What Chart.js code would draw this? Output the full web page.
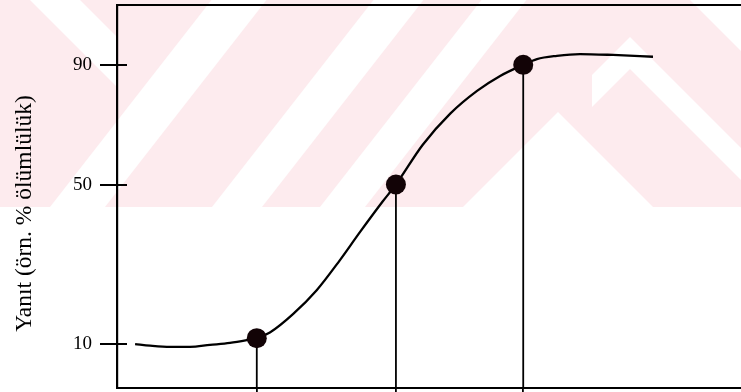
<!DOCTYPE html>
<html>
<head>
<meta charset="utf-8">
<script src="https://cdn.jsdelivr.net/npm/chart.js@4/dist/chart.umd.min.js"></script>
<style>
  html, body { margin: 0; padding: 0; background: #ffffff; }
  #wrap { width: 741px; height: 392px; }
</style>
</head>
<body>
<div id="wrap"><canvas id="c"></canvas></div>
<script>
// Dose–response curve (response % vs. dose) with the 10 / 50 / 90 % points marked.

// Sigmoid curve, sampled along the dose axis
const curveDose     = [2.9, 5.3, 8.5, 11.7, 14.9, 18.1, 20.8, 22.4, 24.5, 28.2, 32.0, 35.7, 38.9, 42.6, 44.7, 49.0, 53.4, 57.7, 61.4, 65.1, 67.3, 70.5, 74.2, 79.5, 85.9];
const curveResponse = [10.0, 9.6, 9.3, 9.3, 9.8, 10.3, 11.0, 11.5, 12.9, 17.5, 23.5, 31.0, 38.0, 45.8, 50.0, 63.3, 73.7, 81.3, 86.3, 90.0, 91.9, 93.0, 93.6, 93.3, 92.7];

// Marked doses and their responses
const markDose     = [22.4, 44.7, 65.1];
const markResponse = [11.5, 50, 90];

// Axis ticks and labels
const yTickValues = [10, 50, 90];
const yTitle = 'Yanıt (örn. % ölümlülük)';

const Y_MIN = -1, Y_MAX = 110;
const X_MIN = 0, X_MAX = 100;
const INK = '#000000';
const SERIF = '"Liberation Serif", "DejaVu Serif", serif';

// Linear scale whose lower part (below the pivot) is drawn stretched relative to the upper part.
class SplitLinearScale extends Chart.LinearScale {
  _span(v) {
    const s = this.options.split;
    if (v <= s.pivot) return (v - this.min) * s.below;
    return (s.pivot - this.min) * s.below + (v - s.pivot) * s.above;
  }
  getPixelForValue(value) {
    if (value === null || value === undefined || isNaN(value)) return NaN;
    return this.getPixelForDecimal(this._span(value) / this._span(this.max));
  }
  getValueForPixel(pixel) {
    const s = this.options.split;
    const d = this.getDecimalForPixel(pixel) * this._span(this.max);
    const pivotSpan = this._span(s.pivot);
    if (d <= pivotSpan) return this.min + d / s.below;
    return s.pivot + (d - pivotSpan) / s.above;
  }
}
SplitLinearScale.id = 'splitLinear';
SplitLinearScale.defaults = Chart.LinearScale.defaults;
Chart.register(SplitLinearScale);

// Light pink diagonal watermark in the upper part of the page
const watermark = {
  id: 'watermark',
  beforeDraw(chart) {
    const ctx = chart.ctx;
    const sx = chart.width / 741, sy = chart.height / 392;
    const poly = (pts, color) => {
      ctx.beginPath();
      pts.forEach(([x, y], i) => i ? ctx.lineTo(x * sx, y * sy) : ctx.moveTo(x * sx, y * sy));
      ctx.closePath();
      ctx.fillStyle = color;
      ctx.fill();
    };
    ctx.save();
    ctx.fillStyle = '#ffffff';
    ctx.fillRect(0, 0, chart.width, chart.height);
    const pink = '#fdebee', white = '#ffffff';
    poly([[0, 0], [741, 0], [741, 207], [0, 207]], pink);
    // falling wedge at the top left
    poly([[30, 0], [80, 0], [117, 37], [117, 87]], white);
    // rising bands
    const rise = 0.78 * 207;
    [[50, 55], [212, 50], [320, 45]].forEach(([x0, w]) => {
      poly([[x0, 207], [x0 + w, 207], [x0 + w + rise, 0], [x0 + rise, 0]], white);
    });
    // top-right corner
    poly([[690, 0], [741, 0], [741, 51]], white);
    // upper chevron band
    poly([[630, 37], [741, 148], [741, 180], [630, 69], [592, 107], [592, 75]], white);
    // lower chevron
    poly([[558, 112], [653, 207], [463, 207]], white);
    ctx.restore();
  }
};

// Short inward part of the y tick marks, and the rotated y-axis title
const axisExtras = {
  id: 'axisExtras',
  afterDraw(chart) {
    const ctx = chart.ctx;
    const y = chart.scales.y;
    const left = chart.chartArea.left;
    ctx.save();
    ctx.strokeStyle = INK;
    ctx.lineWidth = 2;
    y.ticks.forEach(t => {
      const py = Math.round(y.getPixelForValue(t.value));
      ctx.beginPath();
      ctx.moveTo(left, py);
      ctx.lineTo(left + 10, py);
      ctx.stroke();
    });
    const ca = chart.chartArea;
    ctx.translate(31, (ca.top + ca.bottom) / 2 + 17);
    ctx.rotate(-Math.PI / 2);
    ctx.fillStyle = INK;
    ctx.font = '23.5px ' + SERIF;
    ctx.textAlign = 'center';
    ctx.textBaseline = 'alphabetic';
    ctx.fillText(yTitle, 0, 0);
    ctx.restore();
  }
};

const curveData = curveDose.map((x, i) => ({ x, y: curveResponse[i] }));
const markData  = markDose.map((x, i) => ({ x, y: markResponse[i] }));
const dropSets  = markDose.map((x, i) => ({
  data: [{ x, y: Y_MIN }, { x, y: markResponse[i] }],
  showLine: true,
  borderColor: INK,
  borderWidth: 1.8,
  pointRadius: 0,
  order: 3
}));

new Chart(document.getElementById('c'), {
  type: 'scatter',
  data: {
    datasets: [
      {
        label: 'Yanıt',
        data: curveData,
        showLine: true,
        borderColor: INK,
        borderWidth: 2.3,
        pointRadius: 0,
        cubicInterpolationMode: 'monotone',
        order: 2
      },
      ...dropSets,
      {
        label: 'noktalar',
        data: markData,
        pointRadius: 10,
        pointHoverRadius: 10,
        backgroundColor: '#120306',
        borderWidth: 0,
        order: 1
      }
    ]
  },
  options: {
    responsive: true,
    maintainAspectRatio: false,
    animation: false,
    events: [],
    layout: { autoPadding: false, padding: { left: 65, top: 5, right: 0, bottom: 0 } },
    plugins: { legend: { display: false }, tooltip: { enabled: false } },
    scales: {
      x: {
        type: 'linear',
        position: 'bottom',
        min: X_MIN,
        max: X_MAX,
        afterBuildTicks: s => { s.ticks = markDose.map(v => ({ value: v })); },
        ticks: { display: false },
        grid: { drawOnChartArea: false, drawTicks: true, tickLength: 4, color: INK, tickColor: INK, lineWidth: 1.8, tickWidth: 1.8 },
        border: { display: true, color: INK, width: 2 }
      },
      xTop: {
        type: 'linear',
        position: 'top',
        min: X_MIN,
        max: X_MAX,
        ticks: { display: false },
        grid: { display: false, drawTicks: false },
        border: { display: true, color: INK, width: 2 }
      },
      y: {
        type: 'splitLinear',
        position: 'left',
        min: Y_MIN,
        max: Y_MAX,
        split: { pivot: 50, below: 4, above: 3 },
        afterBuildTicks: s => { s.ticks = yTickValues.map(v => ({ value: v })); },
        afterFit: s => { s.paddingTop = 0; s.paddingBottom = 0; },
        ticks: { color: INK, padding: 8, font: { family: SERIF, size: 19 } },
        grid: { drawOnChartArea: false, drawTicks: true, tickLength: 17, color: INK, tickColor: INK, lineWidth: 2, tickWidth: 2 },
        border: { display: true, color: INK, width: 2.2 }
      }
    }
  },
  plugins: [watermark, axisExtras]
});
</script>
</body>
</html>
